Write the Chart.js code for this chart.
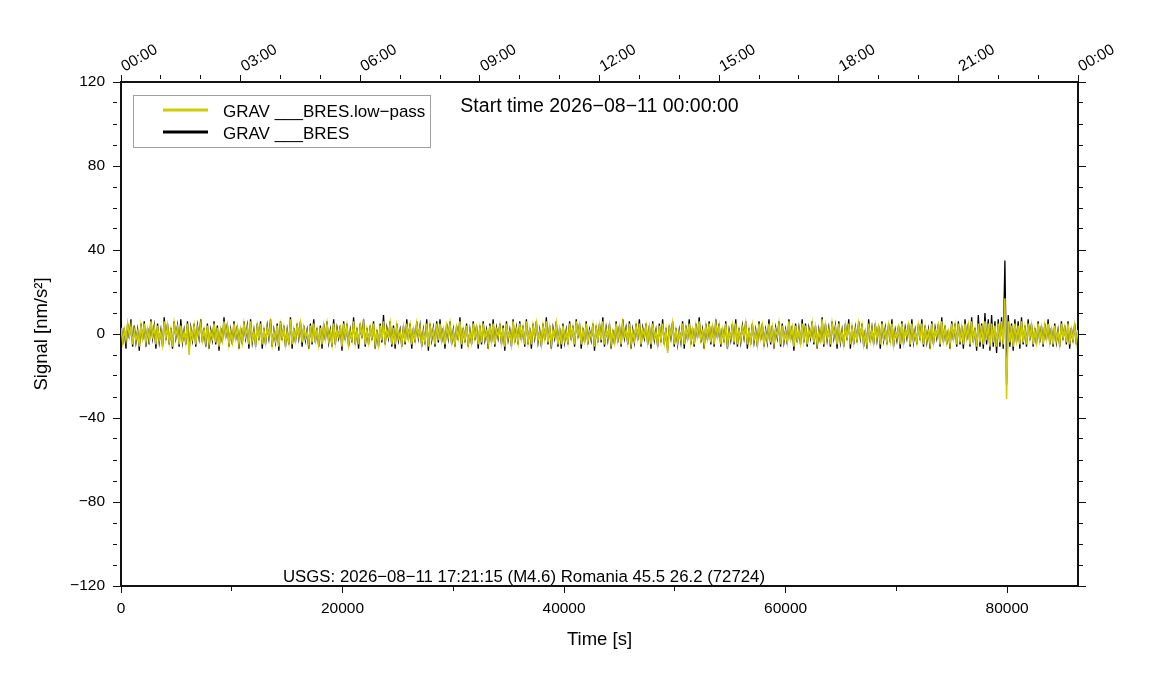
<!DOCTYPE html>
<html>
<head>
<meta charset="utf-8">
<script src="https://cdn.jsdelivr.net/npm/chart.js@4.4.1/dist/chart.umd.min.js"></script>
<style>
  html, body { margin: 0; padding: 0; background: #fff; }
  #wrap { width: 1151px; height: 700px; }
</style>
</head>
<body>
<div id="wrap"><canvas id="grav-chart" width="1151" height="700"></canvas></div>
<script>
( function () {
    'use strict';

    // sample spacing of the traces, seconds
    var sampleStep = 150;

    // GRAV ___BRES (raw), nm/s^2, one value every 150 s
    var gravBres = [
        6, -5, 3, -7, 5, -2, 7, -6, 4, -4, 2, -8, 5, -3, 6, -6, 3, -5, 7, -2, 4, -7, 5, -4,
        2, -6, 8, -3, 5, -5, 3, -7, 6, -2, 4, -6, 7, -4, 2, -5, 6, -8, 3, -3, 5, -6, 4, -2,
        7, -4, 3, -6, 5, -7, 2, -3, 6, -5, 4, -8, 3, -4, 8, -2, 5, -6, 2, -5, 6, -3, 4, -7,
        3, -5, 6, -2, 4, -7, 7, -4, 2, -6, 5, -3, 6, -7, 3, -5, 4, -2, 7, -6, 2, -4, 5, -8,
        6, -3, 4, -6, 2, -5, 8, -7, 3, -4, 5, -2, 6, -6, 4, -3, 2, -7, 5, -5, 7, -4, 3, -6,
        4, -7, 5, -3, 6, -4, 2, -6, 7, -5, 3, -2, 4, -8, 6, -3, 5, -6, 2, -4, 8, -5, 3, -7,
        5, -2, 7, -6, 3, -5, 4, -3, 6, -7, 2, -6, 5, -4, 9, -5, 3, -2, 6, -6, 4, -7, 5, -3,
        2, -6, 4, -5, 7, -3, 5, -7, 3, -4, 6, -2, 4, -6, 2, -5, 7, -8, 5, -3, 3, -6, 6, -4,
        7, -4, 3, -7, 5, -2, 6, -5, 2, -6, 4, -3, 8, -7, 3, -4, 5, -6, 2, -5, 6, -3, 4, -7,
        4, -5, 6, -3, 2, -7, 5, -4, 7, -6, 3, -2, 5, -5, 4, -8, 6, -3, 2, -6, 7, -4, 3, -5,
        6, -3, 4, -6, 7, -5, 3, -7, 5, -2, 6, -4, 2, -6, 5, -3, 8, -5, 4, -7, 3, -2, 6, -6,
        3, -7, 5, -4, 2, -5, 6, -3, 4, -6, 7, -2, 5, -7, 3, -4, 6, -5, 2, -3, 5, -8, 4, -4,
        5, -4, 8, -6, 3, -3, 5, -7, 2, -5, 6, -4, 4, -6, 7, -2, 3, -5, 6, -7, 2, -4, 5, -3,
        7, -6, 3, -2, 5, -5, 4, -7, 6, -3, 2, -6, 5, -4, 7, -5, 3, -8, 4, -2, 6, -6, 3, -5,
        2, -4, 6, -7, 4, -3, 7, -5, 3, -6, 5, -2, 8, -4, 2, -7, 5, -3, 6, -5, 4, -6, 7, -2,
        5, -6, 3, -4, 6, -7, 2, -3, 5, -5, 7, -6, 3, -4, 4, -2, 6, -7, 3, -5, 5, -4, 2, -6,
        6, -3, 5, -6, 2, -4, 7, -5, 4, -7, 3, -2, 6, -6, 5, -4, 2, -5, 7, -3, 4, -8, 5, -4,
        3, -5, 7, -4, 5, -6, 3, -2, 6, -5, 4, -7, 2, -4, 8, -6, 5, -3, 3, -6, 6, -2, 4, -7,
        6, -4, 2, -6, 5, -3, 7, -7, 4, -5, 3, -4, 6, -2, 5, -6, 2, -7, 7, -4, 3, -5, 5, -3,
        4, -7, 6, -3, 3, -5, 5, -4, 7, -6, 2, -3, 4, -7, 6, -5, 3, -2, 5, -6, 7, -4, 2, -5,
        5, -3, 7, -6, 4, -4, 2, -7, 6, -5, 3, -2, 5, -6, 8, -4, 4, -5, 2, -7, 6, -3, 5, -6,
        6, -5, 4, -7, 7, -3, 5, -6, 8, -4, 3, -8, 9, -6, 5, -7, 10, -5, 7, -8, 9, -6, 6, -9,
        7, -6, 8, -7, 35, -24, 9, -6, 5, -8, 7, -4, 6, -7, 8, -5, 4, -6, 7, -3, 5, -6, 3, -5,
        6, -4, 4, -6, 5, -3, 7, -5, 3, -6, 5, -4, 2, -6, 6, -3, 4, -5, 6, -7, 3, -4, 5, -5,
        4
    ];

    // GRAV ___BRES.low-pass, nm/s^2, same sampling
    var gravLowPass = [
        3, -4, 2, -3, 5, -1, 4, -5, 2, -3, 1, -6, 4, -2, 5, -4, 2, -3, 6, -1, 3, -5, 4, -3,
        1, -5, 6, -2, 4, -4, 2, -6, 5, -1, 3, -5, 4, -3, 1, -4, 5, -10, 2, -2, 4, -5, 3, -1,
        5, -3, 2, -4, 4, -5, 1, -2, 5, -4, 3, -6, 2, -3, 6, -1, 4, -5, 1, -4, 5, -2, 3, -5,
        2, -4, 5, -1, 3, -5, 6, -3, 1, -5, 4, -2, 5, -5, 2, -4, 3, -1, 5, -5, 1, -3, 4, -6,
        4, -2, 3, -5, 1, -4, 7, -5, 2, -3, 4, -1, 5, -4, 3, -2, 1, -5, 4, -4, 5, -3, 2, -5,
        3, -5, 4, -2, 5, -3, 1, -5, 5, -4, 2, -1, 3, -6, 5, -2, 4, -5, 1, -3, 6, -4, 2, -5,
        4, -1, 5, -5, 2, -4, 3, -2, 5, -5, 1, -5, 4, -3, 6, -4, 2, -1, 5, -5, 3, -5, 4, -2,
        1, -5, 3, -4, 5, -2, 4, -5, 2, -3, 5, -1, 3, -5, 1, -4, 5, -6, 4, -2, 2, -5, 5, -3,
        5, -3, 2, -5, 4, -1, 5, -4, 1, -5, 3, -2, 6, -5, 2, -3, 4, -5, 1, -4, 5, -2, 3, -5,
        3, -4, 5, -2, 1, -5, 4, -3, 5, -5, 2, -1, 4, -4, 3, -6, 5, -2, 1, -5, 6, -3, 2, -4,
        5, -2, 3, -5, 6, -4, 2, -5, 4, -1, 5, -3, 1, -5, 4, -2, 6, -4, 3, -5, 2, -1, 5, -5,
        2, -5, 4, -3, 1, -4, 5, -2, 3, -5, 6, -1, 4, -5, 2, -3, 5, -4, 1, -2, 4, -6, 3, -3,
        4, -3, 6, -5, 2, -2, 4, -5, 1, -4, 5, -3, 3, -5, 5, -1, 2, -4, 5, -5, 1, -3, 4, -2,
        5, -5, 2, -1, 4, -4, 3, -5, 5, -2, 1, -5, 4, -3, 5, -4, 2, -9, 3, -1, 5, -5, 2, -4,
        1, -3, 5, -5, 3, -2, 5, -4, 2, -5, 4, -1, 6, -3, 1, -5, 4, -2, 5, -4, 3, -5, 5, -1,
        4, -5, 2, -3, 5, -5, 1, -2, 4, -4, 5, -5, 2, -3, 3, -1, 5, -5, 2, -4, 4, -3, 1, -5,
        5, -2, 4, -5, 1, -3, 5, -4, 3, -5, 2, -1, 5, -5, 4, -3, 1, -4, 6, -2, 3, -6, 4, -3,
        2, -4, 5, -3, 4, -5, 2, -1, 5, -4, 3, -5, 1, -3, 7, -5, 4, -2, 2, -5, 5, -1, 3, -5,
        5, -3, 1, -5, 4, -2, 5, -5, 3, -4, 2, -3, 5, -1, 4, -5, 1, -5, 5, -3, 2, -4, 4, -2,
        3, -5, 5, -2, 2, -4, 4, -3, 5, -5, 1, -2, 3, -5, 5, -4, 2, -1, 4, -5, 5, -3, 1, -4,
        4, -2, 5, -5, 3, -3, 1, -5, 5, -4, 2, -1, 4, -5, 6, -3, 3, -4, 1, -5, 5, -2, 4, -5,
        5, -4, 3, -5, 5, -2, 4, -5, 6, -3, 2, -6, 5, -4, 4, -5, 6, -3, 5, -6, 5, -4, 4, -6,
        5, -4, 6, -5, 17, -31, 6, -4, 4, -6, 5, -3, 4, -5, 6, -4, 3, -5, 5, -2, 4, -5, 2, -4,
        5, -3, 3, -5, 4, -2, 5, -4, 2, -5, 4, -3, 1, -5, 5, -2, 3, -4, 5, -5, 2, -3, 4, -4,
        2
    ];

    // axis ticks
    var timeTicks = [ 0, 10000, 20000, 30000, 40000, 50000, 60000, 70000, 80000 ];
    var timeLabelStep = 20000;
    var yMin = -120, yMax = 120, yStep = 10, yLabelStep = 40;
    var tMin = 0, tMax = 86400;
    var hourStep = 3600, hourLabelStep = 10800;

    var startTime = 'Start time 2026\u221208\u221211 00:00:00';
    var eventText = 'USGS: 2026\u221208\u221211 17:21:15 (M4.6) Romania 45.5 26.2 (72724)';

    var times = gravBres.map( function ( v, i ) { return i * sampleStep; } );
    function pts( arr ) {
        return arr.map( function ( v, i ) { return { x: times[ i ], y: v }; } );
    }

    var ink = '#111111';
    var yellow = '#cdcd00';
    var font = '"Liberation Sans", Arial, Helvetica, sans-serif';
    Chart.defaults.font.family = font;
    Chart.defaults.color = '#000';

    function minus( v ) {
        return v < 0 ? '\u2212' + Math.abs( v ) : String( v );
    }
    function minorDash( step ) {
        return function ( ctx ) {
            if ( ! ctx.tick ) return [];
            return ( ctx.tick.value % step === 0 ) ? [] : [ 4, 60 ];
        };
    }

    var textPlugin = {
        id: 'gmtText',
        afterDraw: function ( chart ) {
            var c = chart.ctx;
            var a = chart.chartArea;
            var ds = chart.data.datasets;
            c.save();
            // legend frame
            c.strokeStyle = '#a0a0a0';
            c.lineWidth = 1;
            c.strokeRect( a.left + 12.5, a.top + 13.5, 297, 52 );
            c.font = '17px ' + font;
            c.textAlign = 'left';
            c.textBaseline = 'alphabetic';
            ds.forEach( function ( d, i ) {
                var y = a.top + 28 + i * 22;
                c.strokeStyle = d.borderColor;
                c.lineWidth = 3;
                c.beginPath();
                c.moveTo( a.left + 42, y );
                c.lineTo( a.left + 87, y );
                c.stroke();
                c.fillStyle = '#000';
                c.fillText( d.label, a.left + 102, y + 6.5 );
            } );
            c.font = '19.5px ' + font;
            c.textAlign = 'center';
            c.fillText( startTime, ( a.left + a.right ) / 2, a.top + 30 );
            c.font = '16.8px ' + font;
            c.textAlign = 'left';
            c.fillText( eventText, a.left + 162, a.bottom - 4 );
            c.restore();
        }
    };

    var border = { display: true, color: ink, width: 2 };

    new Chart( document.getElementById( 'grav-chart' ), {
        type: 'line',
        data: {
            datasets: [ {
                label: 'GRAV ___BRES.low\u2212pass',
                data: pts( gravLowPass ),
                borderColor: yellow,
                backgroundColor: yellow,
                borderWidth: 1.5,
                pointRadius: 0,
                tension: 0,
            }, {
                label: 'GRAV ___BRES',
                data: pts( gravBres ),
                borderColor: '#000000',
                backgroundColor: '#000000',
                borderWidth: 1.3,
                pointRadius: 0,
                tension: 0,
            } ],
        },
        plugins: [ textPlugin ],
        options: {
            responsive: false,
            animation: false,
            devicePixelRatio: 1,
            events: [],
            layout: { padding: 0 },
            plugins: {
                legend: { display: false },
                tooltip: { enabled: false },
            },
            scales: {
                x: {
                    type: 'linear',
                    position: 'bottom',
                    min: tMin,
                    max: tMax,
                    afterBuildTicks: function ( s ) {
                        s.ticks = timeTicks.map( function ( v ) { return { value: v }; } );
                    },
                    afterFit: function ( s ) { s.height = 114; },
                    ticks: {
                        autoSkip: false,
                        maxRotation: 0,
                        padding: 6,
                        font: { size: 15.5 },
                        color: '#000',
                        callback: function ( v ) { return v % timeLabelStep === 0 ? String( v ) : ''; },
                    },
                    grid: {
                        drawOnChartArea: false,
                        tickLength: 7,
                        tickColor: ink,
                        tickWidth: 1,
                        tickBorderDash: minorDash( timeLabelStep ),
                    },
                    border: border,
                    title: {
                        display: true,
                        text: 'Time [s]',
                        font: { size: 18.5 },
                        color: '#000',
                        padding: { top: 0, bottom: 49 },
                    },
                },
                x2: {
                    type: 'linear',
                    position: 'top',
                    min: tMin,
                    max: tMax,
                    afterFit: function ( s ) { s.height = 82; },
                    ticks: {
                        stepSize: hourStep,
                        autoSkip: false,
                        minRotation: 30,
                        maxRotation: 30,
                        padding: -1,
                        labelOffset: 11,
                        font: { size: 15.5 },
                        color: '#000',
                        callback: function ( v ) {
                            if ( v % hourLabelStep !== 0 ) return '';
                            var h = ( v / hourStep ) % 24;
                            return ( h < 10 ? '0' : '' ) + h + ':00';
                        },
                    },
                    grid: {
                        drawOnChartArea: false,
                        tickLength: 7,
                        tickColor: ink,
                        tickWidth: 1,
                        tickBorderDash: minorDash( hourLabelStep ),
                    },
                    border: border,
                },
                y: {
                    type: 'linear',
                    position: 'left',
                    min: yMin,
                    max: yMax,
                    afterFit: function ( s ) { s.width = 121; },
                    ticks: {
                        stepSize: yStep,
                        autoSkip: false,
                        padding: 8,
                        font: { size: 15.5 },
                        color: '#000',
                        callback: function ( v ) { return v % yLabelStep === 0 ? minus( v ) : ''; },
                    },
                    grid: {
                        drawOnChartArea: false,
                        tickLength: 8,
                        tickColor: ink,
                        tickWidth: 1,
                        tickBorderDash: minorDash( yLabelStep ),
                    },
                    border: border,
                    title: {
                        display: true,
                        text: 'Signal [nm/s\u00b2]',
                        font: { size: 18.5 },
                        color: '#000',
                        padding: { top: 31, bottom: 0 },
                    },
                },
                y2: {
                    type: 'linear',
                    position: 'right',
                    min: yMin,
                    max: yMax,
                    afterFit: function ( s ) { s.width = 73; },
                    ticks: {
                        stepSize: yStep,
                        autoSkip: false,
                        padding: 0,
                        callback: function () { return ''; },
                    },
                    grid: {
                        drawOnChartArea: false,
                        tickLength: 8,
                        tickColor: ink,
                        tickWidth: 1,
                        tickBorderDash: minorDash( yLabelStep ),
                    },
                    border: border,
                },
            },
        },
    } );
} )();
</script>
</body>
</html>
